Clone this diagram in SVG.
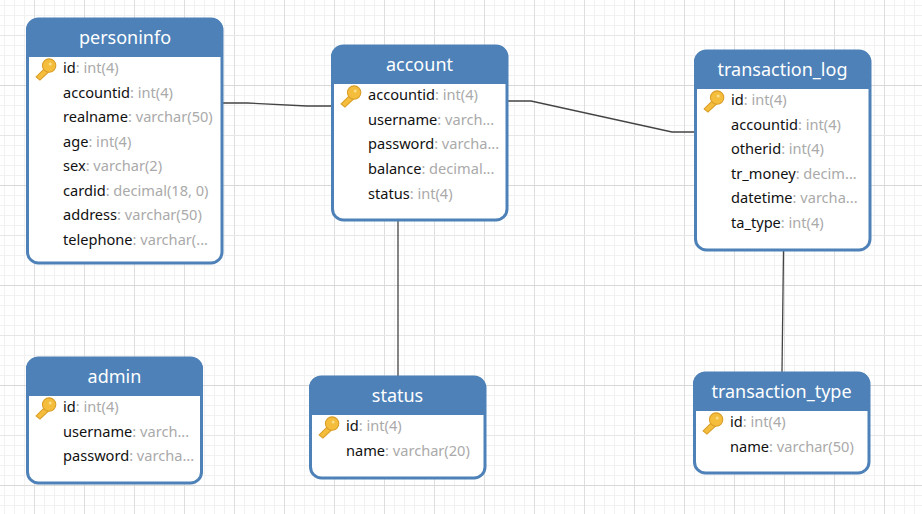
<svg xmlns="http://www.w3.org/2000/svg" width="922" height="514" viewBox="0 0 922 514">
<style>
.body{fill:#fff;stroke:#4d81b8;stroke-width:3}
.head{fill:#4d81b8}
.title{font:18px "Noto Sans","Open Sans",sans-serif;fill:#fff;text-anchor:middle}
.row{font:14.6px "Noto Sans","Open Sans",sans-serif;fill:#111}
.row tspan{fill:#aaa}
.conn{fill:none;stroke:#444;stroke-width:1.3}
</style>
<defs>
<pattern id="minor" width="10" height="10" patternUnits="userSpaceOnUse" x="4" y="5">
<path d="M0.5 0V10M0 0.5H10" fill="none" stroke="#f1f1f1" stroke-width="1"/>
</pattern>
<pattern id="major" width="50" height="100" patternUnits="userSpaceOnUse" x="34" y="35">
<path d="M0.5 0V100" fill="none" stroke="#dedede" stroke-width="1"/>
<path d="M0 0.5H50" fill="none" stroke="#e6e6e6" stroke-width="1"/>
<path d="M0 50.500H50" fill="none" stroke="#d8d8d8" stroke-width="1"/>
</pattern>
<g id="key" transform="scale(1.08)">
<path d="M2 17.5L11 8.500L14.500 12L5.500 20.500Z" fill="#f5bd3c" stroke="#d99e28" stroke-width="1"/>
<circle cx="14" cy="7" r="6.200" fill="#f5bd3c" stroke="#d99e28" stroke-width="1"/>
<circle cx="15" cy="5.500" r="1.400" fill="#fbe08c"/>
</g>
</defs>
<rect width="922" height="514" fill="#fff"/>
<rect width="922" height="514" fill="url(#minor)"/>
<rect width="922" height="514" fill="url(#major)"/>
<g id="connectors">
<path class="conn" d="M223 103H247L307 106H331"/>
<path class="conn" d="M508 101H531L672 132H694"/>
<path class="conn" d="M398 221V376"/>
<path class="conn" d="M783.500 251L782 372"/>
</g>
<g id="personinfo">
<rect class="body" x="27.500" y="19" width="194.500" height="244" rx="11"/>
<path class="head" d="M26 57V30A12 12 0 0 1 38 18H211A12 12 0 0 1 223 30V57Z"/>
<text class="title" x="125" y="44">personinfo</text>
<use href="#key" x="34" y="58"/>
<text class="row" x="63" y="73">id<tspan>: int(4)</tspan></text>
<text class="row" x="63" y="98">accountid<tspan>: int(4)</tspan></text>
<text class="row" x="63" y="122">realname<tspan>: varchar(50)</tspan></text>
<text class="row" x="63" y="147">age<tspan>: int(4)</tspan></text>
<text class="row" x="63" y="171">sex<tspan>: varchar(2)</tspan></text>
<text class="row" x="63" y="196">cardid<tspan>: decimal(18, 0)</tspan></text>
<text class="row" x="63" y="220">address<tspan>: varchar(50)</tspan></text>
<text class="row" x="63" y="245">telephone<tspan>: varchar(...</tspan></text>
</g>
<g id="account">
<rect class="body" x="332.500" y="46" width="174.500" height="174" rx="11"/>
<path class="head" d="M331 84V57A12 12 0 0 1 343 45H496A12 12 0 0 1 508 57V84Z"/>
<text class="title" x="419.500" y="71">account</text>
<use href="#key" x="339" y="85"/>
<text class="row" x="368" y="100">accountid<tspan>: int(4)</tspan></text>
<text class="row" x="368" y="125">username<tspan>: varch...</tspan></text>
<text class="row" x="368" y="149">password<tspan>: varcha...</tspan></text>
<text class="row" x="368" y="174">balance<tspan>: decimal...</tspan></text>
<text class="row" x="368" y="199">status<tspan>: int(4)</tspan></text>
</g>
<g id="transaction_log">
<rect class="body" x="695.500" y="51" width="174.500" height="199" rx="11"/>
<path class="head" d="M694 89V62A12 12 0 0 1 706 50H859A12 12 0 0 1 871 62V89Z"/>
<text class="title" x="782.500" y="76">transaction_log</text>
<use href="#key" x="702" y="90"/>
<text class="row" x="731" y="105">id<tspan>: int(4)</tspan></text>
<text class="row" x="731" y="130">accountid<tspan>: int(4)</tspan></text>
<text class="row" x="731" y="154">otherid<tspan>: int(4)</tspan></text>
<text class="row" x="731" y="179">tr_money<tspan>: decim...</tspan></text>
<text class="row" x="731" y="203">datetime<tspan>: varcha...</tspan></text>
<text class="row" x="731" y="228">ta_type<tspan>: int(4)</tspan></text>
</g>
<g id="admin">
<rect class="body" x="27.500" y="358" width="174" height="125" rx="11"/>
<path class="head" d="M26 396V369A12 12 0 0 1 38 357H191A12 12 0 0 1 203 369V396Z"/>
<text class="title" x="114.500" y="383">admin</text>
<use href="#key" x="34" y="397"/>
<text class="row" x="63" y="412">id<tspan>: int(4)</tspan></text>
<text class="row" x="63" y="437">username<tspan>: varch...</tspan></text>
<text class="row" x="63" y="461">password<tspan>: varcha...</tspan></text>
</g>
<g id="status">
<rect class="body" x="310.500" y="377" width="174.500" height="101" rx="11"/>
<path class="head" d="M309 415V388A12 12 0 0 1 321 376H474A12 12 0 0 1 486 388V415Z"/>
<text class="title" x="397.500" y="402">status</text>
<use href="#key" x="317" y="416"/>
<text class="row" x="346" y="431">id<tspan>: int(4)</tspan></text>
<text class="row" x="346" y="456">name<tspan>: varchar(20)</tspan></text>
</g>
<g id="transaction_type">
<rect class="body" x="694.500" y="373" width="174.500" height="100" rx="11"/>
<path class="head" d="M693 411V384A12 12 0 0 1 705 372H858A12 12 0 0 1 870 384V411Z"/>
<text class="title" x="781.500" y="398">transaction_type</text>
<use href="#key" x="701" y="412"/>
<text class="row" x="730" y="427">id<tspan>: int(4)</tspan></text>
<text class="row" x="730" y="452">name<tspan>: varchar(50)</tspan></text>
</g>
</svg>
